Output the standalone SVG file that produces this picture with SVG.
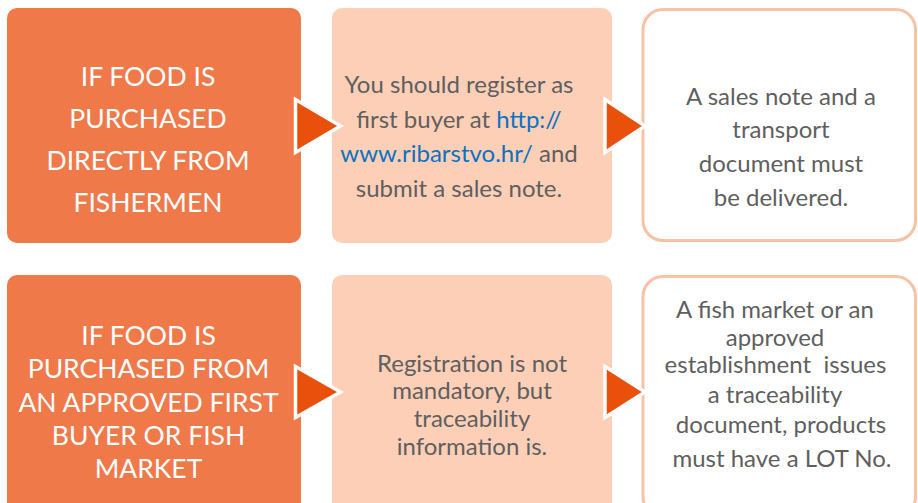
<svg xmlns="http://www.w3.org/2000/svg" width="918" height="503" viewBox="0 0 918 503">
<style>
.dark{fill:#F0794A}
.light{fill:#FDCFB7}
.outl{fill:#FFFFFF;stroke:#F9C2A4;stroke-width:3}
.arrow{fill:#E9500C;stroke:#FFFFFF;stroke-width:3.5;stroke-linejoin:miter}
.wt{font-family:Lato,"Open Sans",sans-serif;font-size:26.5px;fill:#FFFFFF;text-anchor:middle}
.gt{font-family:Lato,"Open Sans",sans-serif;font-size:24px;fill:#5F5F5F;text-anchor:middle}
.lnk{fill:#0B72C1}
</style>
<rect width="918" height="503" fill="#FFFFFF"/>
<g id="node-direct">
<rect class="dark" x="7" y="8" width="294" height="235" rx="10"/>
<text class="wt"><tspan x="148" y="86">IF FOOD IS</tspan><tspan x="148" y="128">PURCHASED</tspan><tspan x="148" y="170">DIRECTLY FROM</tspan><tspan x="148" y="212">FISHERMEN</tspan></text>
</g>
<g id="node-register">
<rect class="light" x="332" y="8" width="280" height="235" rx="10"/>
<text class="gt"><tspan x="459" y="93">You should register as</tspan><tspan x="459" y="128">first buyer at <tspan class="lnk">http://</tspan></tspan><tspan x="459" y="162"><tspan class="lnk">www.ribarstvo.hr/</tspan> and</tspan><tspan x="459" y="197">submit a sales note.</tspan></text>
</g>
<g id="node-salesnote">
<rect class="outl" x="643" y="9.5" width="272.5" height="231" rx="20"/>
<text class="gt"><tspan x="781" y="105">A sales note and a</tspan><tspan x="781" y="138">transport</tspan><tspan x="781" y="172">document must</tspan><tspan x="781" y="206">be delivered.</tspan></text>
</g>
<g id="node-approved">
<rect class="dark" x="7" y="275" width="294" height="240" rx="10"/>
<text class="wt"><tspan x="148.5" y="345">IF FOOD IS</tspan><tspan x="148.5" y="378">PURCHASED FROM</tspan><tspan x="148.5" y="412">AN APPROVED FIRST</tspan><tspan x="148.5" y="445">BUYER OR FISH</tspan><tspan x="148.5" y="478">MARKET</tspan></text>
</g>
<g id="node-registration">
<rect class="light" x="332" y="275" width="280" height="240" rx="10"/>
<text class="gt"><tspan x="472" y="372">Registration is not</tspan><tspan x="472" y="399">mandatory, but</tspan><tspan x="472" y="427">traceability</tspan><tspan x="472" y="455">information is.</tspan></text>
</g>
<g id="node-traceability">
<rect class="outl" x="643" y="276.5" width="272.5" height="240" rx="20"/>
<text class="gt" xml:space="preserve"><tspan x="775" y="318">A fish market or an</tspan><tspan x="775" y="346">approved</tspan><tspan x="775.5" y="373">establishment  issues</tspan><tspan x="775" y="403">a traceability</tspan><tspan x="781" y="433">document, products</tspan><tspan x="782" y="467">must have a LOT No.</tspan></text>
</g>
<g id="connectors">
<polygon class="arrow" points="295.5,99.5 340.5,126 295.5,152.5"/>
<polygon class="arrow" points="605,99.5 645,126 605,152.5"/>
<polygon class="arrow" points="295.5,366.5 340.5,392 295.5,417.5"/>
<polygon class="arrow" points="605,366.5 645,392 605,417.5"/>
</g>
</svg>
